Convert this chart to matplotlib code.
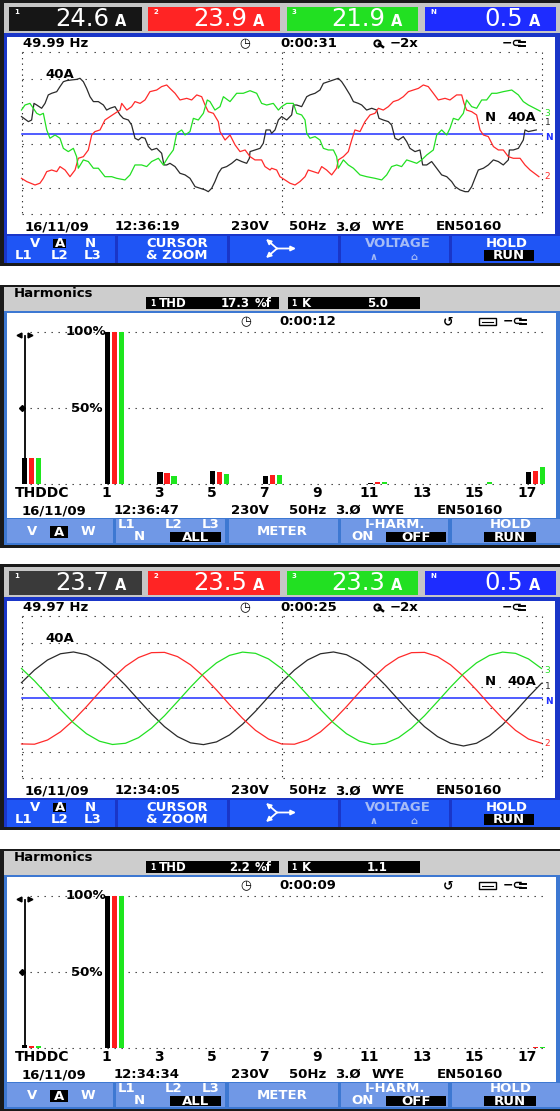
# -*- coding: utf-8 -*-
import numpy as np
import matplotlib
matplotlib.use('Agg')
from matplotlib import pyplot as plt
from matplotlib.patches import Rectangle

W, H = 560, 1111
FONT = 'DejaVu Sans'

# screen 1: scope, distorted load current, (time ms, amps)
s1_l1 = [(0.0, 13.0), (0.53, 9.3), (0.78, 10.5), (0.96, 22.7), (1.17, 21.5), (1.55, 19.1), (1.81, 22.7),
         (2.06, 28.9), (2.32, 30.1), (2.71, 31.3), (2.96, 35.0), (3.22, 38.6), (3.47, 39.4), (3.86, 39.9),
         (4.24, 40.3), (4.5, 41.1), (4.76, 38.6), (5.01, 33.7), (5.27, 27.6), (5.53, 24.0), (5.91, 24.0),
         (6.3, 21.5), (6.55, 17.8), (6.81, 19.1), (7.19, 20.3), (7.58, 14.2), (7.83, 11.7), (8.22, 10.5),
         (8.47, 6.8), (8.73, -2.9), (8.99, -4.2), (9.24, -2.2), (9.5, -2.9), (9.76, -9.0), (10.01, -11.5),
         (10.4, -10.3), (10.78, -13.9), (10.96, -22.5), (11.17, -22.5), (11.42, -21.3), (11.81, -23.7),
         (12.19, -28.6), (12.58, -29.8), (12.96, -32.3), (13.35, -38.4), (13.73, -39.6), (14.12, -40.8),
         (14.37, -42.1), (14.63, -39.6), (14.88, -34.7), (15.14, -28.6), (15.4, -24.9), (15.78, -23.7),
         (16.17, -21.3), (16.55, -18.3), (16.94, -20.0), (17.32, -21.3), (17.53, -17.6), (17.58, -12.7),
         (17.96, -11.5), (18.35, -10.3), (18.6, -6.6), (18.81, 3.2), (19.12, 3.2), (19.24, 0.7),
         (19.5, 3.2), (19.76, 10.5), (20.01, 13.0), (20.4, 10.5), (20.78, 14.2), (20.91, 21.5),
         (21.17, 21.5), (21.55, 20.3), (21.94, 27.6), (22.19, 28.9), (22.58, 30.1), (22.96, 32.5),
         (23.22, 37.4), (23.6, 38.6), (23.99, 39.9), (24.37, 41.1), (24.63, 38.6), (24.88, 35.0),
         (25.27, 28.9), (25.53, 24.0), (25.91, 22.7), (26.17, 21.5), (26.55, 17.8), (26.94, 19.1),
         (27.32, 17.8), (27.5, 11.7), (27.83, 10.5), (28.22, 9.3), (28.47, 6.8), (28.73, -2.9),
         (28.99, -4.2), (29.37, -1.7), (29.63, -5.4), (29.88, -10.3), (30.27, -12.7), (30.65, -11.5),
         (30.86, -22.5), (31.17, -22.5), (31.55, -20.0), (31.94, -24.9), (32.32, -29.8), (32.71, -31.1),
         (33.09, -34.7), (33.35, -38.4), (33.73, -40.8), (34.12, -42.1), (34.37, -42.1), (34.63, -38.4),
         (34.88, -32.3), (35.14, -26.2), (35.53, -24.9), (35.91, -22.5), (36.3, -18.8), (36.68, -20.0),
         (37.06, -22.5), (37.45, -18.8), (37.53, -11.5), (37.83, -11.5), (38.22, -10.3), (38.6, -4.2),
         (38.73, 3.2), (38.99, 2.0), (39.6, 3.2)]
s1_l2 = [(0.0, -32.3), (0.4, -34.7), (1.04, -37.2), (1.42, -35.9), (1.68, -32.3), (1.94, -27.4),
         (2.32, -26.2), (2.71, -27.4), (2.96, -23.7), (3.35, -26.2), (3.73, -31.1), (4.12, -26.2),
         (4.37, -17.6), (4.76, -16.4), (5.14, -11.5), (5.4, -0.5), (5.65, 2.0), (6.04, 3.2), (6.42, 10.5),
         (6.81, 13.0), (7.19, 15.4), (7.58, 17.8), (7.71, 22.7), (8.1, 17.8), (8.47, 20.3), (8.73, 24.0),
         (9.12, 22.7), (9.5, 25.2), (9.88, 31.3), (10.4, 32.5), (10.78, 35.0), (11.17, 36.2), (11.42, 33.7),
         (11.81, 30.1), (12.19, 25.2), (12.71, 26.4), (13.09, 25.2), (13.48, 28.9), (13.86, 27.6),
         (14.12, 21.5), (14.37, 16.6), (14.76, 15.4), (15.14, 9.3), (15.27, 2.0), (15.66, -4.2),
         (16.04, -0.5), (16.43, -7.8), (16.81, -12.7), (17.2, -11.5), (17.58, -16.4), (17.96, -18.8),
         (18.47, -18.8), (18.73, -23.7), (19.12, -26.2), (19.24, -24.9), (19.63, -26.2), (19.88, -31.1),
         (20.27, -33.5), (20.65, -35.9), (21.04, -37.2), (21.42, -34.7), (21.81, -31.1), (22.06, -26.2),
         (22.45, -27.4), (22.83, -28.6), (23.09, -23.7), (23.47, -26.2), (23.86, -29.8), (24.24, -24.9),
         (24.37, -18.8), (24.76, -16.4), (25.14, -12.7), (25.4, -4.2), (25.65, 3.2), (26.04, 2.0),
         (26.42, 9.3), (26.81, 14.2), (27.19, 15.4), (27.45, 19.1), (27.83, 17.8), (28.22, 20.3),
         (28.6, 24.0), (28.99, 25.2), (29.37, 27.6), (29.76, 31.3), (30.14, 32.5), (30.53, 33.7),
         (30.91, 36.2), (31.29, 35.0), (31.68, 30.1), (32.06, 25.2), (32.58, 26.4), (32.96, 25.2),
         (33.47, 28.9), (33.86, 28.9), (34.04, 22.7), (34.24, 17.8), (34.63, 16.6), (35.01, 14.2),
         (35.27, 3.2), (35.53, -0.5), (35.91, -1.7), (36.3, -9.0), (36.68, -11.5), (37.06, -11.5),
         (37.45, -16.4), (37.83, -17.6), (38.35, -17.6), (38.73, -22.5), (39.12, -26.2), (39.8, -31.1)]
s1_l3 = [(0.0, 17.8), (0.27, 21.5), (0.65, 22.7), (0.91, 19.1), (1.17, 15.4), (1.42, 14.2), (1.68, 15.4),
         (1.94, 3.2), (2.19, -2.9), (2.58, -0.5), (2.96, -2.9), (3.22, -10.3), (3.6, -12.7), (3.99, -10.3),
         (4.24, -16.4), (4.37, -24.9), (4.76, -18.8), (5.14, -20.0), (5.53, -24.9), (5.91, -24.9),
         (6.42, -31.1), (6.94, -31.1), (7.32, -32.3), (7.96, -33.5), (8.35, -29.8), (8.73, -22.5),
         (9.24, -22.5), (9.63, -23.7), (10.01, -20.0), (10.53, -17.6), (10.91, -22.5), (11.3, -16.4),
         (11.68, -11.5), (11.94, 0.7), (12.32, 3.2), (12.58, -0.5), (12.96, 2.0), (13.22, 11.7),
         (13.6, 10.5), (13.99, 15.4), (14.29, 25.2), (14.5, 24.0), (14.88, 17.8), (15.27, 20.3),
         (15.53, 27.6), (16.04, 24.0), (16.55, 30.1), (17.06, 30.1), (17.58, 32.0), (18.09, 30.1),
         (18.47, 22.7), (18.86, 21.5), (19.37, 22.7), (19.76, 17.8), (20.01, 20.3), (20.4, 22.7),
         (20.91, 22.7), (21.17, 15.4), (21.55, 14.2), (21.81, 10.5), (21.94, 0.7), (22.19, -2.9),
         (22.58, -1.7), (22.96, -4.2), (23.22, -10.3), (23.6, -11.5), (23.99, -11.5), (24.24, -16.4),
         (24.37, -24.9), (24.76, -18.8), (25.14, -22.5), (25.53, -24.9), (26.04, -29.8), (26.55, -31.1),
         (27.19, -32.3), (27.71, -33.5), (28.09, -29.8), (28.47, -23.7), (28.86, -22.5), (29.24, -23.7),
         (29.63, -18.8), (30.01, -20.0), (30.4, -21.3), (30.78, -18.8), (31.17, -15.2), (31.68, -11.5),
         (31.94, -0.5), (32.32, 3.2), (32.71, -0.5), (32.96, 4.4), (33.22, 11.7), (33.6, 10.5),
         (33.99, 15.4), (34.24, 25.2), (34.63, 20.3), (35.01, 19.1), (35.4, 25.2), (35.78, 25.2),
         (36.17, 30.1), (36.55, 30.1), (37.06, 31.3), (37.71, 32.5), (38.22, 28.9), (38.6, 24.0),
         (38.99, 21.5), (39.9, 17.0)]
s1_n = [(0.0, 0.2), (20.0, 0.2), (40.0, 0.2)]
s1_rms = ['24.6', '23.9', '21.9', '0.5']

# screen 3: scope, near-sinusoidal current, one sample per ms (0..40 ms)
s3_l1 = [11.5, 20.8, 28.1, 32.7, 34.0, 32.0, 26.9, 19.1, 9.5, -1.1, -11.5, -20.8, -28.1, -32.7,
         -34.0, -32.0, -26.9, -19.1, -9.5, 1.1, 11.5, 20.8, 28.1, 32.7, 34.0, 32.0, 26.9, 19.1, 9.5,
         -1.1, -11.5, -20.8, -28.1, -33.0, -35.0, -33.0, -27.5, -19.5, -9.5, 1.1, 11.0]
s3_l2 = [-33.5, -33.7, -30.6, -24.6, -16.1, -6.1, 4.6, 14.7, 23.5, 29.9, 33.5, 33.7, 30.6, 24.6,
         16.1, 6.1, -4.6, -14.7, -23.5, -29.9, -33.5, -33.7, -30.6, -24.6, -16.1, -6.1, 4.6, 14.7,
         23.5, 29.9, 33.5, 33.7, 30.6, 24.6, 16.1, 6.1, -4.6, -14.7, -23.5, -29.9, -33.0]
s3_l3 = [21.9, 12.8, 2.4, -8.2, -18.0, -26.0, -31.5, -33.9, -33.0, -28.9, -21.9, -12.8, -2.4, 8.2,
         18.0, 26.0, 31.5, 33.9, 33.0, 28.9, 21.9, 12.8, 2.4, -8.2, -18.0, -26.0, -31.5, -33.9, -33.0,
         -28.9, -21.9, -12.8, -2.4, 8.2, 18.0, 26.0, 31.5, 33.9, 33.0, 28.9, 21.9]
s3_n = [(0.0, 0.1), (40.0, 0.1)]
s3_rms = ['23.7', '23.5', '23.3', '0.5']

# harmonics screens, % of fundamental, orders 1..17
h_orders = list(range(1, 18))
s2_l1 = [100, 0, 8.3, 0, 9.0, 0, 5.5, 0, 0, 0, 1.1, 0, 0.2, 0, 0, 0, 8.3]
s2_l2 = [100, 0, 7.6, 0, 8.3, 0, 6.1, 0, 0.4, 0, 1.3, 0, 0.4, 0, 0.4, 0, 9.0]
s2_l3 = [100, 0.4, 5.5, 0, 7.0, 0, 6.1, 0, 0.4, 0, 1.3, 0, 0.4, 0, 1.3, 0, 11.4]
s2_thd = [17.0, 17.0, 17.5]
s4_l1 = [100, 0, 0.2, 0, 0, 0, 0, 0, 0, 0, 0, 0, 0, 0, 0, 0, 0.3]
s4_l2 = [100, 0, 0.5, 0, 0.5, 0, 0.5, 0, 0, 0, 0, 0, 0.5, 0, 0, 0, 0.8]
s4_l3 = [100, 0.3, 0, 0, 0.5, 0, 0.5, 0, 0, 0, 0, 0, 0.5, 0, 0, 0, 0.8]
s4_thd = [2.2, 1.8, 1.8]

DARK = '#1a1a1a'
SCOPE_FRAME = '#1a36c8'
SCOPE_BTN = '#1f55f5'
HARM_FRAME = '#3d78d2'
HARM_BTN = '#7098e6'
TRACE = ['#2a2a2a', '#ff2a2a', '#22e022', '#2030ff']
BARS = ['#000000', '#ff1c1c', '#1ee61e']

fig = plt.figure(figsize=(5.6, 11.11), dpi=100)
bg = fig.add_axes([0, 0, 1, 1])
bg.set_xlim(0, W)
bg.set_ylim(H, 0)
bg.axis('off')


def rect(x0, y0, x1, y1, fc, z=1, ec='none', lw=0, fill=True):
    bg.add_patch(Rectangle((x0, y0), x1 - x0, y1 - y0, facecolor=fc, edgecolor=ec,
                           linewidth=lw, fill=fill, zorder=z))


def txt(x, y, s, size=9.5, color='black', ha='left', weight='bold', z=5):
    bg.text(x, y, s, fontsize=size, color=color, ha=ha, va='center', fontweight=weight,
            family=FONT, zorder=z)


def inv(x0, x1, y0, y1, s, size=9.5):
    rect(x0, y0, x1, y1, 'black', z=3)
    txt((x0 + x1) / 2, (y0 + y1) / 2 + 0.5, s, size, 'white', ha='center')


def dots_h(y, x0, x1, period=9):
    gap = period * 0.9 - 1.2
    bg.plot([x0, x1], [y, y], color='#303030', lw=0.8, ls=(0, (1.2, gap)), zorder=3)


def dots_v(x, y0, y1, period=5.5):
    gap = period * 0.9 - 1.2
    bg.plot([x, x], [y0, y1], color='#303030', lw=0.8, ls=(0, (1.2, gap)), zorder=3)


def px_axes(x0, y0, x1, y1):
    ax = fig.add_axes([x0 / W, 1 - y1 / H, (x1 - x0) / W, (y1 - y0) / H])
    ax.patch.set_alpha(0)
    ax.axis('off')
    return ax


def magnifier(x, y):
    bg.plot([x], [y - 1], marker='o', ms=4.5, mfc='none', mec='black', mew=1.4, zorder=5)
    bg.plot([x + 2, x + 6], [y + 0.5, y + 3.5], color='black', lw=1.8, zorder=5)


def plug(x, y):
    txt(x, y, '−⊂', 9)
    bg.plot([x + 17, x + 23], [y - 2, y - 2], color='black', lw=1.4, zorder=5)
    bg.plot([x + 17, x + 23], [y + 2, y + 2], color='black', lw=1.4, zorder=5)


def header_boxes(dy, vals, first):
    boxes = [(9, 142, first, '1'), (148, 280, '#ff2424', '2'),
             (287, 418, '#22e022', '3'), (425, 556, '#1e2cff', 'N')]
    for (x0, x1, c, tag), val in zip(boxes, vals):
        rect(x0, dy + 7, x1, dy + 31, c, z=2)
        txt(x0 + 5, dy + 11.5, tag, 5, 'white')
        txt(x1 - 33, dy + 19.5, val, 17.5, 'white', ha='right', weight='normal')
        txt(x1 - 21, dy + 22, 'A', 10.5, 'white', ha='center')


def scope_screen(dy, vals, first, freq, elapsed, stamp, traces, neutral):
    rect(0, dy, W, dy + 2.5, DARK)
    rect(0, dy, 4, dy + 265.7, DARK)
    rect(4, dy + 2.5, W, dy + 32.5, '#c6c6c6')
    header_boxes(dy, vals, first)
    rect(4, dy + 32.5, W, dy + 263, SCOPE_FRAME)
    rect(6.7, dy + 36.5, 555, dy + 233.5, 'white', z=2)

    yr = dy + 43.5
    txt(23, yr, freq)
    txt(245, yr, '◷', 9, ha='center')
    txt(280, yr, elapsed)
    magnifier(377, yr)
    txt(390, yr, '−2x')
    plug(502, yr)

    # graticule
    for gy in (52, 79, 123, 144, 188, 214):
        dots_h(dy + gy, 21.5, 541.5)
    for gx in (21.5, 281.5, 541.5):
        dots_v(gx, dy + 52, dy + 214)

    ax = px_axes(21.5, dy + 52, 541.5, dy + 214)
    px_per_a = 54.5 / 40.0
    ax.set_xlim(0, 40)
    ax.set_ylim(-(214 - 134.3) / px_per_a, (134.3 - 52) / px_per_a)
    ax.plot([p[0] for p in neutral], [p[1] for p in neutral], color=TRACE[3], lw=1.1,
            clip_on=False)
    for k, (tt, aa) in enumerate(traces):
        ax.plot(tt, aa, color=TRACE[k], lw=0.9, clip_on=False, solid_joinstyle='round')
    # end-of-trace tags at the right edge
    tag_y = [8.5, traces[1][1][-1], traces[2][1][-1] - 1.5, -2.0]
    for k, tag in enumerate(['1', '2', '3', 'N']):
        ax.text(40.25, tag_y[k], tag, fontsize=6.5, color=TRACE[k], va='center',
                family=FONT, fontweight='bold' if tag == 'N' else 'normal', clip_on=False)

    txt(45, dy + 74.5, '40A')
    txt(485, dy + 117.7, 'N')
    txt(507, dy + 117.7, '40A')

    yb = dy + 227
    txt(25, yb, stamp[0])
    txt(115, yb, stamp[1])
    txt(231, yb, '230V')
    txt(289, yb, '50Hz')
    txt(335, yb, '3.Ø')
    txt(372, yb, 'WYE')
    txt(436, yb, 'EN50160')

    # soft keys
    for x0, x1 in ((6.7, 115), (118, 227), (230, 338), (341, 449), (452, W)):
        rect(x0, dy + 236, x1, dy + 262.7, SCOPE_BTN, z=2)
    y1, y2 = dy + 243.3, dy + 255.5
    inv(53.3, 66, dy + 238.5, dy + 248.3, 'A')
    for x, s in ((24, 'L1'), (60, 'L2'), (93, 'L3')):
        txt(x, y2, s, ha='center', color='white')
    txt(35, y1, 'V', ha='center', color='white')
    txt(90, y1, 'N', ha='center', color='white')
    txt(177, y1, 'CURSOR', ha='center', color='white')
    txt(177, y2, '& ZOOM', ha='center', color='white')
    cx, cy = 277, dy + 248.5
    for tx, ty in ((266, cy - 9.5), (296, cy), (266, cy + 9.5)):
        bg.annotate('', xy=(tx, ty), xytext=(cx, cy), zorder=5,
                    arrowprops=dict(arrowstyle='-|>', color='white', lw=1.3,
                                    mutation_scale=7, shrinkA=0, shrinkB=0))
    txt(398, y1, 'VOLTAGE', ha='center', color='#a6bcf6')
    txt(373, y2 + 1, '∧', 7, ha='center', color='#a6bcf6')
    txt(414, y2 + 1, '⌂', 7, ha='center', color='#a6bcf6')
    txt(507, y1, 'HOLD', ha='center', color='white')
    inv(484, 534, dy + 250, dy + 260.7, 'RUN')
    rect(0, dy + 262.7, W, dy + 265.7, DARK, z=3)


def harm_screen(dy, thd_txt, k_txt, elapsed, stamp, thd, l1, l2, l3):
    rect(0, dy + 285, W, dy + 287, DARK)
    rect(0, dy + 285, 3.5, dy + 548, DARK)
    rect(3.5, dy + 287, W, dy + 311, '#cdcdcd')
    txt(14, dy + 293.5, 'Harmonics', 9.5)
    rect(146, dy + 297, 279, dy + 309, 'black', z=2)
    rect(287.5, dy + 297, 420, dy + 309, 'black', z=2)
    yh = dy + 303.3
    txt(150, yh, '1', 5.5, 'white')
    txt(159, yh, 'THD', 8.5, 'white')
    txt(250, yh, thd_txt, 8.5, 'white', ha='right')
    txt(255, yh, '%f', 8.5, 'white')
    txt(291, yh, '1', 5.5, 'white')
    txt(302, yh, 'K', 8.5, 'white')
    txt(388, yh, k_txt, 8.5, 'white', ha='right')
    rect(3.5, dy + 311, W, dy + 545, HARM_FRAME)
    rect(6.5, dy + 312.5, 555.5, dy + 518, 'white', z=2)

    yr = dy + 321.7
    txt(246, yr, '◷', 9, ha='center')
    txt(279, yr, elapsed)
    txt(448, yr, '↺', 9, ha='center')
    rect(479, yr - 3.5, 496, yr + 3.5, 'none', z=5, ec='black', lw=1.0, fill=False)
    bg.plot([482, 493], [yr, yr], color='black', lw=0.8, zorder=5)
    plug(503, yr)

    y100, y50, y0 = dy + 331.7, dy + 408.3, dy + 484.3
    for gy in (y100, y50, y0):
        dots_h(gy, 30, 545, period=7)
    txt(106, y100, '100%', ha='right')
    txt(103, y50, '50%', ha='right')

    # bar axes: black bar of order h centred at 107.5 + (h-1)*26.3 px
    step = 26.3
    ax = px_axes(0, y100, W, y0)
    ax.set_xlim(1 - 107.5 / step, 1 + (W - 107.5) / step)
    ax.set_ylim(0, 100)
    thd_pos = 1 + (24.5 - 107.5) / step
    pitch, width = 7 / step, 5.5 / step
    for k, vals in enumerate((l1, l2, l3)):
        ax.bar(np.array(h_orders) + k * pitch, vals, width=width, color=BARS[k], linewidth=0)
        ax.bar(thd_pos + k * pitch, thd[k], width=width, color=BARS[k], linewidth=0)
    ax.plot([thd_pos, thd_pos], [0, 97.5], color='black', lw=1.3)
    ax.plot([thd_pos - 0.2], [98], marker='<', ms=3.5, color='black')
    ax.plot([thd_pos + 0.2], [98], marker='>', ms=3.5, color='black')
    ax.plot([thd_pos - 0.1], [50], marker='D', ms=3, color='black')
    for h in h_orders[::2]:
        ax.text(h - 0.05, -5.9, str(h), ha='center', va='center', fontsize=10,
                fontweight='bold', family=FONT, clip_on=False)
    txt(15, dy + 493.3, 'THDDC', 10)

    yb = dy + 510.7
    txt(22, yb, stamp[0])
    txt(114, yb, stamp[1])
    txt(231, yb, '230V')
    txt(289, yb, '50Hz')
    txt(335, yb, '3.Ø')
    txt(372, yb, 'WYE')
    txt(437, yb, 'EN50160')

    for x0, x1 in ((6.5, 112.5), (116, 225), (228.6, 337.5), (341, 448), (452, W)):
        rect(x0, dy + 519.3, x1, dy + 543.3, HARM_BTN, z=2)
    ym, y1, y2 = dy + 531.7, dy + 524.8, dy + 536.9
    txt(32, ym, 'V', ha='center', color='white')
    inv(50, 68, dy + 526, dy + 537.5, 'A')
    txt(88, ym, 'W', ha='center', color='white')
    for x, s in ((127, 'L1'), (174, 'L2'), (211, 'L3')):
        txt(x, y1, s, ha='center', color='white')
    txt(139, y2, 'N', ha='center', color='white')
    inv(170, 221, dy + 531.5, dy + 542, 'ALL')
    txt(282, ym, 'METER', ha='center', color='white')
    txt(395, y1, 'I-HARM.', ha='center', color='white')
    txt(363, y2, 'ON', ha='center', color='white')
    inv(386, 446, dy + 531.5, dy + 542, 'OFF')
    txt(511, y1, 'HOLD', ha='center', color='white')
    inv(484, 536, dy + 531.5, dy + 542, 'RUN')
    rect(0, dy + 545, W, dy + 548, DARK, z=3)


s1_traces = [([p[0] for p in s], [p[1] for p in s]) for s in (s1_l1, s1_l2, s1_l3)]
scope_screen(0, s1_rms, '#161616', '49.99 Hz', '0:00:31', ('16/11/09', '12:36:19'),
             s1_traces, s1_n)
harm_screen(0, '17.3', '5.0', '0:00:12', ('16/11/09', '12:36:47'),
            s2_thd, s2_l1, s2_l2, s2_l3)

t3 = np.arange(len(s3_l1))
scope_screen(564, s3_rms, '#3a3a3a', '49.97 Hz', '0:00:25', ('16/11/09', '12:34:05'),
             [(t3, s3_l1), (t3, s3_l2), (t3, s3_l3)], s3_n)
harm_screen(564, '2.2', '1.1', '0:00:09', ('16/11/09', '12:34:34'),
            s4_thd, s4_l1, s4_l2, s4_l3)

fig.savefig('out.png', dpi=100, facecolor='white')
